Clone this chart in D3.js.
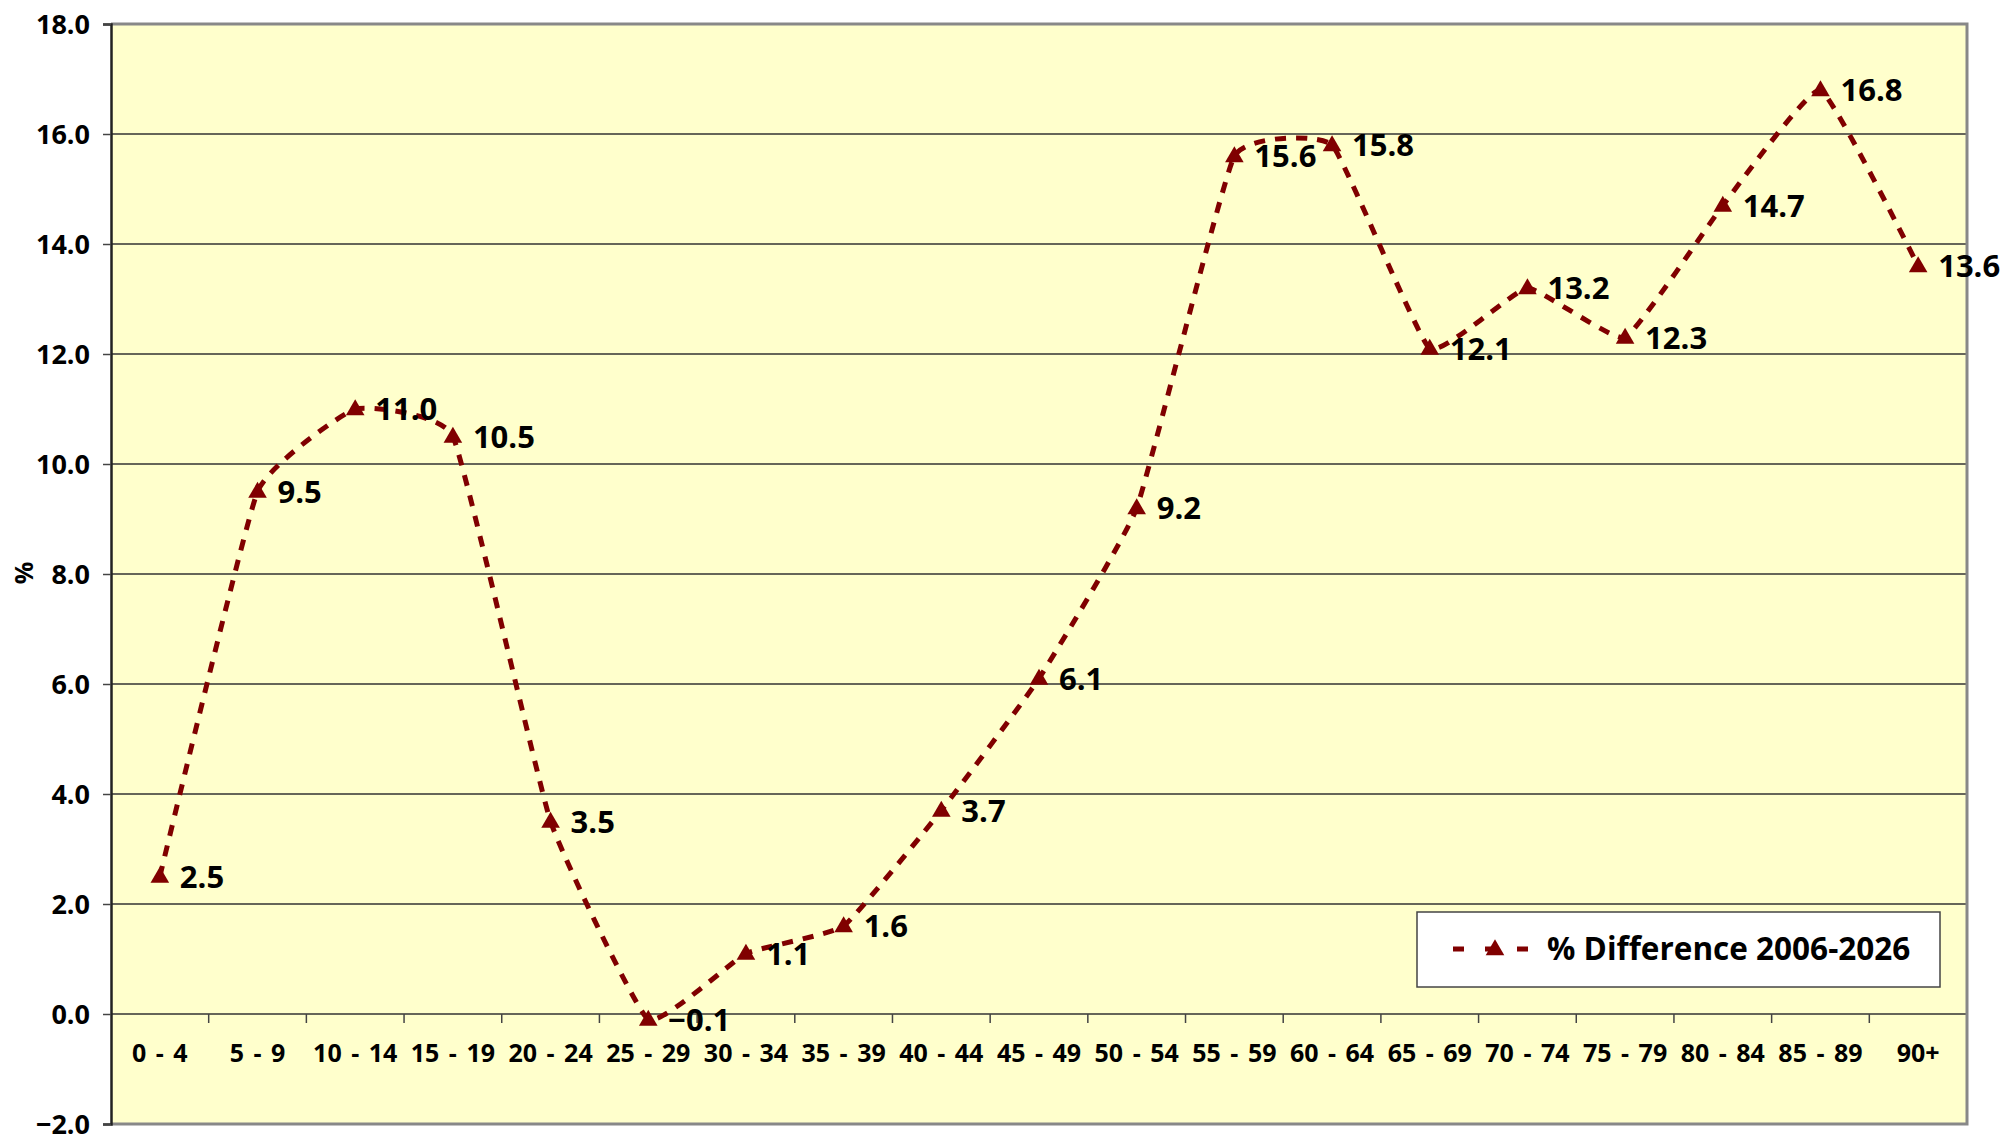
<!DOCTYPE html>
<html><head><meta charset="utf-8">
<script src="https://cdn.jsdelivr.net/npm/d3@7"></script>
<style>
html,body{margin:0;padding:0;background:#fff;}
text{font-family:"Open Sans",sans-serif;font-weight:700;fill:#000;}
</style></head>
<body><svg id="c" width="2004" height="1134"></svg>
<script>
const categories = ["0 - 4","5 - 9","10 - 14","15 - 19","20 - 24","25 - 29","30 - 34","35 - 39","40 - 44","45 - 49","50 - 54","55 - 59","60 - 64","65 - 69","70 - 74","75 - 79","80 - 84","85 - 89","90+"];
const values = [2.5, 9.5, 11.0, 10.5, 3.5, -0.1, 1.1, 1.6, 3.7, 6.1, 9.2, 15.6, 15.8, 12.1, 13.2, 12.3, 14.7, 16.8, 13.6];
const yTicks = [-2, 0, 2, 4, 6, 8, 10, 12, 14, 16, 18];
const seriesName = "% Difference 2006-2026";
const yTitle = "%";

const svg = d3.select("#c");
const L = 111, R = 1967, T = 24, B = 1124;
const color = "#800000";

const x = d3.scaleBand().domain(categories).range([L, R]).padding(0);
const y = d3.scaleLinear().domain([-2, 18]).range([B, T]);

svg.append("rect").attr("x", L).attr("y", T).attr("width", R - L).attr("height", B - T).attr("fill", "#FFFFCC");

svg.append("g").selectAll("line").data(yTicks.filter(d => d > -2 && d < 18)).join("line")
  .attr("x1", L).attr("x2", R).attr("y1", d => y(d)).attr("y2", d => y(d))
  .attr("stroke", "#333").attr("stroke-width", 1.5);

svg.append("path").attr("d", `M${L},${T}H${R}V${B}H${L}`).attr("fill", "none")
  .attr("stroke", "#888").attr("stroke-width", 3);

const yAxis = d3.axisLeft(y).tickValues(yTicks).tickSize(8).tickPadding(13).tickFormat(d3.format(".1f"));
const gy = svg.append("g").attr("transform", `translate(${L},0)`).call(yAxis);
gy.select(".domain").attr("stroke", "#222").attr("stroke-width", 2.5);
gy.selectAll(".tick line").attr("stroke", "#444").attr("stroke-width", 1.5);
gy.selectAll(".tick text").style("font-size", "27px").style("font-family", "Open Sans").style("font-weight", "700").attr("fill", "#000").attr("dy", "0.36em");

const xAxis = d3.axisBottom(x).tickSize(0).tickPadding(30);
const gx = svg.append("g").attr("transform", `translate(0,${y(0)})`).call(xAxis);
gx.select(".domain").remove();
gx.selectAll(".tick text").style("font-size", "25px").style("font-family", "Open Sans").style("font-weight", "700")
  .style("word-spacing", "3px").attr("fill", "#000");
svg.append("g").selectAll("line").data(categories.slice(1)).join("line")
  .attr("x1", d => x(d)).attr("x2", d => x(d)).attr("y1", y(0)).attr("y2", y(0) + 9)
  .attr("stroke", "#444").attr("stroke-width", 1.5);

svg.append("text").attr("transform", `translate(33,${573}) rotate(-90)`).attr("text-anchor", "middle")
  .style("font-size", "25px").text(yTitle);

const cx = d => x(d) + x.bandwidth() / 2;
const line = d3.line().x((d, i) => cx(categories[i])).y(d => y(d)).curve(d3.curveCardinal.tension(0.65));
svg.append("path").datum(values).attr("d", line).attr("fill", "none")
  .attr("stroke", color).attr("stroke-width", 5).attr("stroke-dasharray", "11,10");

const tri = d3.symbol().type(d3.symbolTriangle).size(150);
svg.append("g").selectAll("path").data(values).join("path")
  .attr("transform", (d, i) => `translate(${cx(categories[i])},${y(d) + 1})`)
  .attr("d", tri).attr("fill", color);

svg.append("g").selectAll("text").data(values).join("text")
  .attr("x", (d, i) => cx(categories[i]) + 20).attr("y", d => y(d)).attr("dy", "0.36em")
  .style("font-size", "31px").text(d => d3.format(".1f")(d));

const lg = svg.append("g");
lg.append("rect").attr("x", 1417).attr("y", 912).attr("width", 523).attr("height", 75)
  .attr("fill", "#fff").attr("stroke", "#444").attr("stroke-width", 1.5);
lg.append("line").attr("x1", 1453).attr("x2", 1529).attr("y1", 949).attr("y2", 949)
  .attr("stroke", color).attr("stroke-width", 5).attr("stroke-dasharray", "11,21");
lg.append("path").attr("transform", "translate(1495,950)").attr("d", tri).attr("fill", color);
lg.append("text").attr("x", 1547).attr("y", 949).attr("dy", "0.36em").style("font-size", "31.5px").text(seriesName);
</script></body></html>
